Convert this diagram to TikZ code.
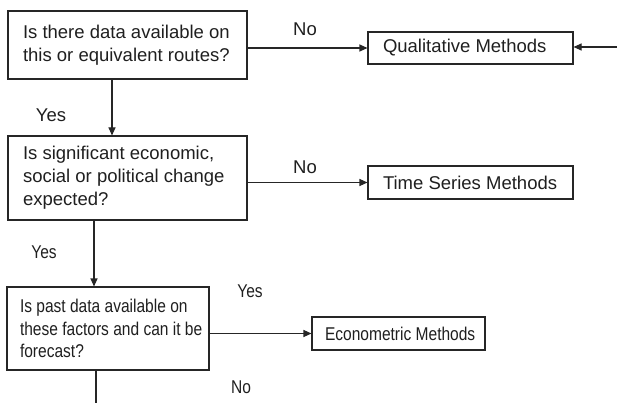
\documentclass[tikz,border=0pt]{standalone}
\usepackage{fontspec}
\setmainfont{Liberation Sans}
\usetikzlibrary{arrows.meta}
\newcommand{\sq}[1]{\scalebox{0.84}[1]{#1}}
\begin{document}
\begin{tikzpicture}[x=1pt,y=-1pt,
  every node/.style={font=\fontsize{18.5}{22.8}\selectfont, text=black!88},
  box/.style={draw=black!85, line width=1.1pt, inner xsep=0pt, inner ysep=0pt, align=left},
  lbl/.style={inner sep=0pt},
  conn/.style={draw=black!85, line width=1.1pt},
  arr/.style={conn, -{Triangle[length=8pt,width=7pt]}}]
\useasboundingbox (0,0) rectangle (617,403);
% question boxes
\node[box, minimum width=239, minimum height=68] (q1) at (127.5,45)
  {\parbox{209pt}{Is there data available on\\this or equivalent routes?}};
\node[box, minimum width=239, minimum height=84] (q2) at (127.5,178)
  {\parbox{209pt}{Is significant economic,\\social or political change\\expected?}};
\node[box, minimum width=202, minimum height=83] (q3) at (108,328.5)
  {\parbox{176pt}{\sq{Is past data available on}\\\sq{these factors and can it be}\\\sq{forecast?}}};
% method boxes
\node[box, minimum width=205, minimum height=32] (qual) at (470.5,48)
  {\parbox{175pt}{Qualitative Methods}};
\node[box, minimum width=205, minimum height=33] (ts) at (470.5,182.5)
  {\parbox{175pt}{Time Series Methods}};
\node[box, minimum width=173, minimum height=33] (eco) at (398.5,333.5)
  {\parbox{147pt}{\sq{Econometric Methods}}};
% free ends
\coordinate (ext) at (617,47);
\coordinate (bot) at (96,403);
% connectors
\draw[arr] (q1.east |- qual) -- (qual.west);
\draw[arr] (ext) -- (qual.east |- ext);
\draw[arr] (q2.east |- ts) -- (ts.west);
\draw[arr] (q3.east |- eco) -- (eco.west);
\draw[arr] ([xshift=-15.5pt]q1.south) -- ([xshift=-15.5pt]q1.south |- q2.north);
\draw[arr] ([xshift=-33.5pt]q2.south) -- ([xshift=-33.5pt]q2.south |- q3.north);
\draw[conn] (bot |- q3.south) -- (bot);
% labels
\node[lbl] (n1) at (305,29) {No};
\node[lbl] (y1) at (51,115) {Yes};
\node[lbl] (n2) at (305,167) {No};
\node[lbl] (y2) at (44,252) {\sq{Yes}};
\node[lbl] (y3) at (250,291) {\sq{Yes}};
\node[lbl] (n3) at (241,387) {\sq{No}};
\end{tikzpicture}
\end{document}
